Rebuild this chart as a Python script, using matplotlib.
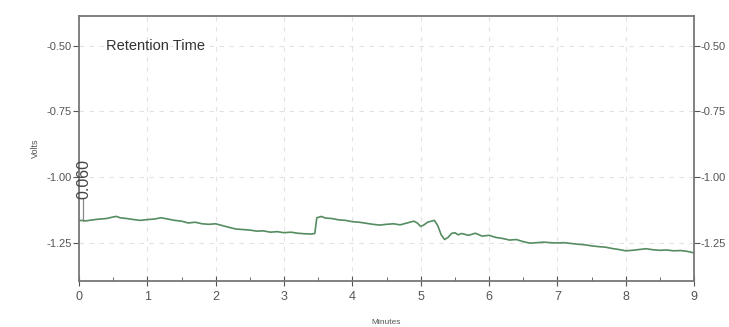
import numpy as np
import matplotlib
matplotlib.use('Agg')
import matplotlib.pyplot as plt

# trace (minutes, volts)
minutes = [0.00, 0.05, 0.10, 0.20, 0.30, 0.40, 0.50, 0.55, 0.60, 0.70, 0.80, 0.90,
           1.00, 1.10, 1.20, 1.30, 1.40, 1.50, 1.60, 1.70, 1.80, 1.90,
           2.00, 2.10, 2.20, 2.30, 2.40, 2.50, 2.60, 2.70, 2.80, 2.90,
           3.00, 3.10, 3.20, 3.30, 3.40, 3.45, 3.48, 3.55, 3.60, 3.70, 3.80, 3.90,
           4.00, 4.10, 4.20, 4.30, 4.40, 4.50, 4.60, 4.70, 4.80, 4.90, 4.95,
           5.00, 5.05, 5.10, 5.20, 5.25, 5.30, 5.35, 5.40, 5.45, 5.50, 5.55, 5.60,
           5.70, 5.80, 5.90, 6.00, 6.10, 6.20, 6.30, 6.40, 6.50, 6.60, 6.70, 6.80,
           6.90, 7.00, 7.10, 7.20, 7.30, 7.40, 7.50, 7.60, 7.70, 7.80, 7.90,
           8.00, 8.10, 8.20, 8.30, 8.40, 8.50, 8.60, 8.70, 8.80, 8.90, 9.00]
volts = [-1.166, -1.165, -1.167, -1.163, -1.160, -1.158, -1.152, -1.150, -1.155, -1.158, -1.162, -1.165,
         -1.162, -1.160, -1.155, -1.160, -1.165, -1.168, -1.175, -1.172, -1.178, -1.180,
         -1.178, -1.185, -1.192, -1.198, -1.200, -1.202, -1.206, -1.205, -1.210, -1.208,
         -1.212, -1.210, -1.214, -1.216, -1.217, -1.215, -1.155, -1.150, -1.156, -1.158, -1.163, -1.165,
         -1.170, -1.172, -1.176, -1.180, -1.183, -1.180, -1.178, -1.182, -1.175, -1.168, -1.175,
         -1.188, -1.182, -1.172, -1.165, -1.185, -1.220, -1.238, -1.230, -1.215, -1.212, -1.220, -1.215,
         -1.222, -1.214, -1.225, -1.222, -1.230, -1.234, -1.240, -1.238, -1.246, -1.252, -1.250, -1.248,
         -1.250, -1.251, -1.250, -1.253, -1.256, -1.258, -1.262, -1.265, -1.267, -1.272, -1.276,
         -1.281, -1.279, -1.276, -1.273, -1.277, -1.279, -1.278, -1.281, -1.280, -1.283, -1.289]

x_ticks = [0, 1, 2, 3, 4, 5, 6, 7, 8, 9]
y_ticks = [-0.50, -0.75, -1.00, -1.25]
peak_time = 0.06
peak_label = '0.060'

plt.rcParams['font.family'] = ['Liberation Sans', 'DejaVu Sans']
fig = plt.figure(figsize=(7.29, 3.27), dpi=100)
ax = fig.add_axes([0.1084, 0.1407, 0.8436, 0.8113])

gray = '#555555'
ax.plot(minutes, volts, color='#558c60', lw=1.2)

# peak marker
ax.plot([peak_time, peak_time], [-1.168, -1.085], color='#888888', lw=0.9)
ax.text(peak_time + 0.01, -1.085, peak_label, rotation=90, ha='center', va='bottom',
        fontsize=11.5, color='#444444')

ax.text(0.39, -0.50, 'Retention Time', fontsize=10.5, color='#333333', va='center')

ax.set_xlim(0, 9)
ax.set_ylim(-1.396, -0.385)
ax.set_xticks(x_ticks)
ax.set_xticks(np.arange(0.5, 9, 1.0), minor=True)
ax.set_yticks(y_ticks)
ax.set_yticklabels(['%.2f' % v for v in y_ticks])
ax.grid(True, which='major', ls=(0, (4, 5)), color='#e2e2e2', lw=0.8)

ax.tick_params(axis='x', which='major', direction='inout', length=7, colors=gray, labelsize=9)
ax.tick_params(axis='x', which='minor', direction='in', length=3, colors=gray)
ax.tick_params(axis='y', direction='out', length=4, colors=gray, labelsize=8,
               right=True, labelright=True, pad=1)
for s in ax.spines.values():
    s.set_color('#777777')
    s.set_linewidth(1.3)

ax.set_xlabel('Minutes', fontsize=6, color='#555555', labelpad=12)
ax.set_ylabel('Volts', fontsize=6.5, color='#555555', labelpad=5)

fig.savefig('out.png', dpi=100)
